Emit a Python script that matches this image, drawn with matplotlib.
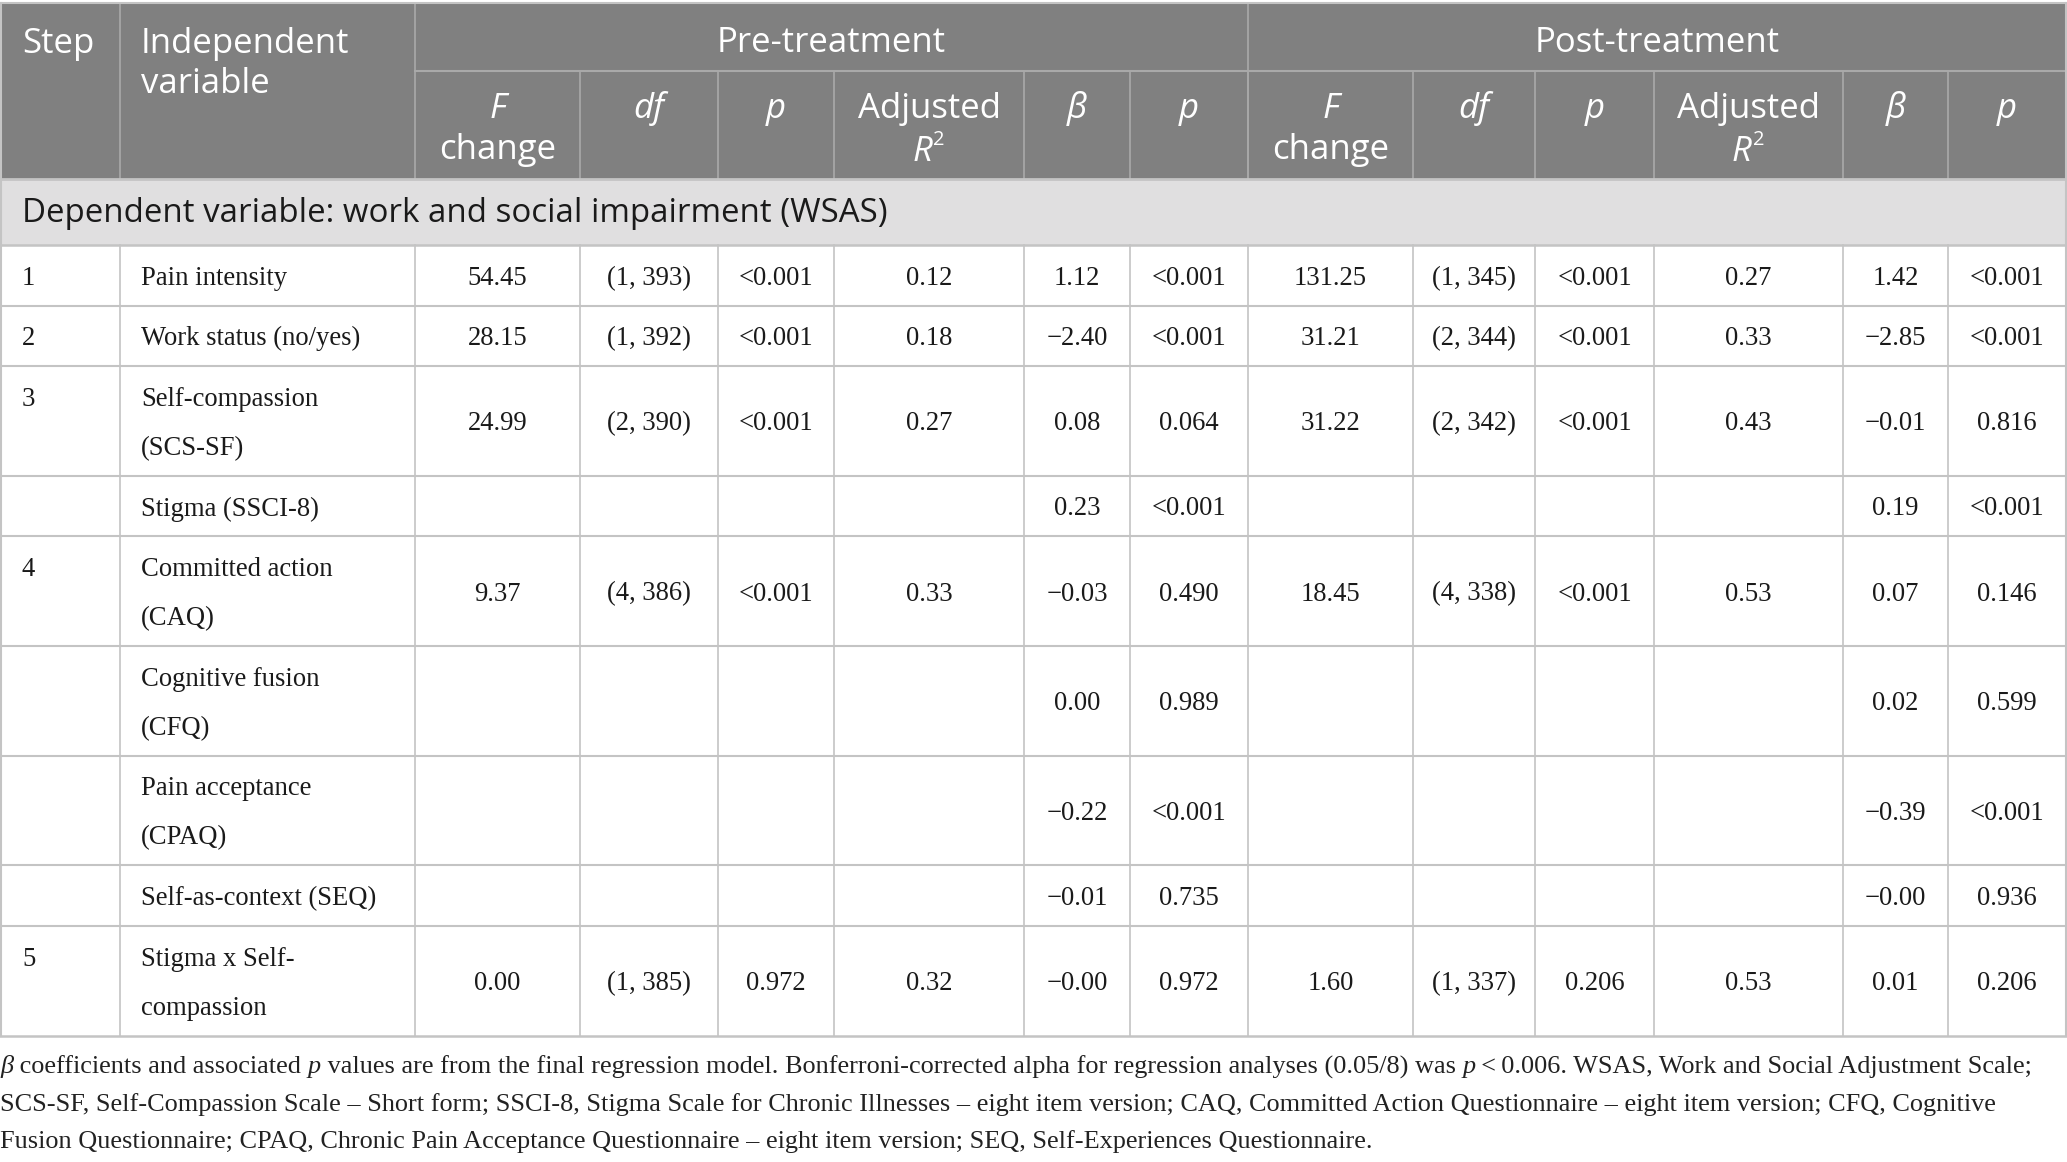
import matplotlib
matplotlib.use("Agg")
import matplotlib.pyplot as plt

# ---------------- data ----------------
steps = ["1", "2", "3", "", "4", "", "", "", "5"]
variables = ["Pain intensity", "Work status (no/yes)", "Self-compassion\n(SCS-SF)",
             "Stigma (SSCI-8)", "Committed action\n(CAQ)", "Cognitive fusion\n(CFQ)",
             "Pain acceptance\n(CPAQ)", "Self-as-context (SEQ)", "Stigma x Self-\ncompassion"]
pre_F = ["54.45", "28.15", "24.99", "", "9.37", "", "", "", "0.00"]
pre_df = ["(1, 393)", "(1, 392)", "(2, 390)", "", "(4, 386)", "", "", "", "(1, 385)"]
pre_p = ["<0.001", "<0.001", "<0.001", "", "<0.001", "", "", "", "0.972"]
pre_R2 = ["0.12", "0.18", "0.27", "", "0.33", "", "", "", "0.32"]
pre_beta = ["1.12", "\u22122.40", "0.08", "0.23", "\u22120.03", "0.00", "\u22120.22", "\u22120.01", "\u22120.00"]
pre_bp = ["<0.001", "<0.001", "0.064", "<0.001", "0.490", "0.989", "<0.001", "0.735", "0.972"]
post_F = ["131.25", "31.21", "31.22", "", "18.45", "", "", "", "1.60"]
post_df = ["(1, 345)", "(2, 344)", "(2, 342)", "", "(4, 338)", "", "", "", "(1, 337)"]
post_p = ["<0.001", "<0.001", "<0.001", "", "<0.001", "", "", "", "0.206"]
post_R2 = ["0.27", "0.33", "0.43", "", "0.53", "", "", "", "0.53"]
post_beta = ["1.42", "\u22122.85", "\u22120.01", "0.19", "0.07", "0.02", "\u22120.39", "\u22120.00", "0.01"]
post_bp = ["<0.001", "<0.001", "0.816", "<0.001", "0.146", "0.599", "<0.001", "0.936", "0.206"]

group_labels = ["Pre-treatment", "Post-treatment"]
band_label = "Dependent variable: work and social impairment (WSAS)"

footnote = [
    [("\u03b2", "i"), (" coefficients and associated ", "n"), ("p", "i"),
     (" values are from the final regression model. Bonferroni-corrected alpha for regression analyses (0.05/8) was ", "n"),
     ("p", "i"), ("\u2009<\u20090.006. WSAS, Work and Social Adjustment Scale;", "n")],
    [("SCS-SF, Self-Compassion Scale \u2013 Short form; SSCI-8, Stigma Scale for Chronic Illnesses \u2013 eight item version; CAQ, Committed Action Questionnaire \u2013 eight item version; CFQ, Cognitive", "n")],
    [("Fusion Questionnaire; CPAQ, Chronic Pain Acceptance Questionnaire \u2013 eight item version; SEQ, Self-Experiences Questionnaire.", "n")],
]

# ---------------- layout ----------------
W, H = 2067, 1162
fig = plt.figure(figsize=(W / 100, H / 100), dpi=100)
ax = fig.add_axes([0, 0, 1, 1])
ax.set_xlim(0, W)
ax.set_ylim(H, 0)
ax.axis("off")
renderer = fig.canvas.get_renderer()

col_edges = [0, 120, 415, 580, 718, 834, 1024, 1130, 1248, 1413, 1535, 1654, 1843, 1948, 2066]
top, mid, hdr_bot, band_bot = 3, 71, 179, 245
single_h, double_h = 60.5, 109.7

HDR_BG = "#808080"
HDR_LINE = "#a9a9a9"
BAND_BG = "#e0dfe0"
GRID = "#c4c4c4"
TXT = "#1a1a1a"
SANS = ["Open Sans", "DejaVu Sans"]
SERIF = ["Liberation Serif", "DejaVu Serif"]
HFS = 25
BANDFS = 23.8
BFS = 19.2
FFS = 18.9

# row edges computed from number of lines
row_edges = [band_bot]
for v in variables:
    row_edges.append(row_edges[-1] + (double_h if "\n" in v else single_h))
bottom = row_edges[-1]

# backgrounds
ax.add_patch(plt.Rectangle((0, top), W - 1, hdr_bot - top, color=HDR_BG, lw=0, zorder=0))
ax.add_patch(plt.Rectangle((0, hdr_bot), W - 1, band_bot - hdr_bot, color=BAND_BG, lw=0, zorder=0))

# header lines
ax.plot([col_edges[2], col_edges[-1]], [mid, mid], color=HDR_LINE, lw=1.5, zorder=1)
for xe in [col_edges[1], col_edges[2], col_edges[8]]:
    ax.plot([xe, xe], [top, hdr_bot], color=HDR_LINE, lw=1.2, zorder=1)
for xe in col_edges[3:-1]:
    ax.plot([xe, xe], [mid, hdr_bot], color=HDR_LINE, lw=1.2, zorder=1)

# body lines
for xe in col_edges[1:-1]:
    ax.plot([xe, xe], [band_bot, bottom], color=GRID, lw=1.2, zorder=1)
for ye in row_edges:
    ax.plot([0, col_edges[-1]], [ye, ye], color=GRID, lw=1.8 if ye in (band_bot, bottom) else 1.5, zorder=1)
ax.plot([0, col_edges[-1]], [top, top], color=GRID, lw=1.5, zorder=1)
ax.plot([0, col_edges[-1]], [hdr_bot, hdr_bot], color=GRID, lw=2, zorder=1)
ax.plot([0.8, 0.8], [top, bottom], color=GRID, lw=1.5, zorder=1)
ax.plot([col_edges[-1], col_edges[-1]], [top, bottom], color=GRID, lw=1.5, zorder=1)

# header text
def htext(x, y, s, ha="center", style="normal"):
    ax.text(x, y, s, ha=ha, va="center", color="white", fontsize=HFS, family=SANS,
            fontstyle=style, zorder=3)

htext(22, 44, "Step", ha="left")
htext(141, 44, "Independent", ha="left")
htext(141, 84, "variable", ha="left")
htext((col_edges[2] + col_edges[8]) / 2, 43, group_labels[0])
htext((col_edges[8] + col_edges[-1]) / 2, 43, group_labels[1])

sub_y1, sub_y2 = 109, 150
for g in range(2):
    base = 2 + g * 6
    c = lambda i: (col_edges[base + i] + col_edges[base + i + 1]) / 2
    htext(c(0), sub_y1, "F", style="italic")
    htext(c(0), sub_y2, "change")
    htext(c(1), sub_y1, "df", style="italic")
    htext(c(2), sub_y1, "p", style="italic")
    htext(c(3), sub_y1, "Adjusted")
    ax.text(c(3) + 3, 152, "R", ha="right", va="center", color="white", fontsize=HFS,
            family=SANS, fontstyle="italic", zorder=3)
    ax.text(c(3) + 10, 140, "2", ha="center", va="center", color="white", fontsize=HFS * 0.58,
            family=SANS, zorder=3)
    htext(c(4), sub_y1, "\u03b2", style="italic")
    htext(c(5), sub_y1, "p", style="italic")

# band text
ax.text(22, 214, band_label, ha="left", va="center", color=TXT, fontsize=BANDFS, family=SANS, zorder=3)

# body
LINE_GAP = 49
DY = 3
num_cols = [pre_F, pre_df, pre_p, pre_R2, pre_beta, pre_bp,
            post_F, post_df, post_p, post_R2, post_beta, post_bp]
for r in range(len(variables)):
    y0, y1 = row_edges[r], row_edges[r + 1]
    yc = (y0 + y1) / 2 + DY
    two = "\n" in variables[r]
    first_y = yc - LINE_GAP / 2 if two else yc
    ax.text(22, first_y, steps[r], ha="left", va="center", color=TXT, fontsize=BFS, family=SERIF, zorder=3)
    lines = variables[r].split("\n")
    for k, ln in enumerate(lines):
        ax.text(141, first_y + k * LINE_GAP, ln, ha="left", va="center", color=TXT,
                fontsize=BFS, family=SERIF, zorder=3)
    for ci, col in enumerate(num_cols):
        xc = (col_edges[2 + ci] + col_edges[3 + ci]) / 2
        ax.text(xc, yc, col[r], ha="center", va="center", color=TXT, fontsize=BFS,
                family=SERIF, zorder=3)

# footnote (runs with mixed italic)
fig.canvas.draw()
def width_of(s, style):
    t = ax.text(0, 0, "|" + s + "|", fontsize=FFS, family=SERIF, fontstyle=style)
    w = t.get_window_extent(renderer).width
    t.remove()
    t2 = ax.text(0, 0, "||", fontsize=FFS, family=SERIF, fontstyle=style)
    w2 = t2.get_window_extent(renderer).width
    t2.remove()
    return w - w2

foot_y = [1067, 1105, 1142]
for line, yy in zip(footnote, foot_y):
    x = 0
    for s, st in line:
        style = "italic" if st == "i" else "normal"
        ax.text(x, yy, s, ha="left", va="center", color="#222222", fontsize=FFS,
                family=SERIF, fontstyle=style, zorder=3)
        x += width_of(s, style)

fig.savefig("out.png", dpi=100, facecolor="white")
